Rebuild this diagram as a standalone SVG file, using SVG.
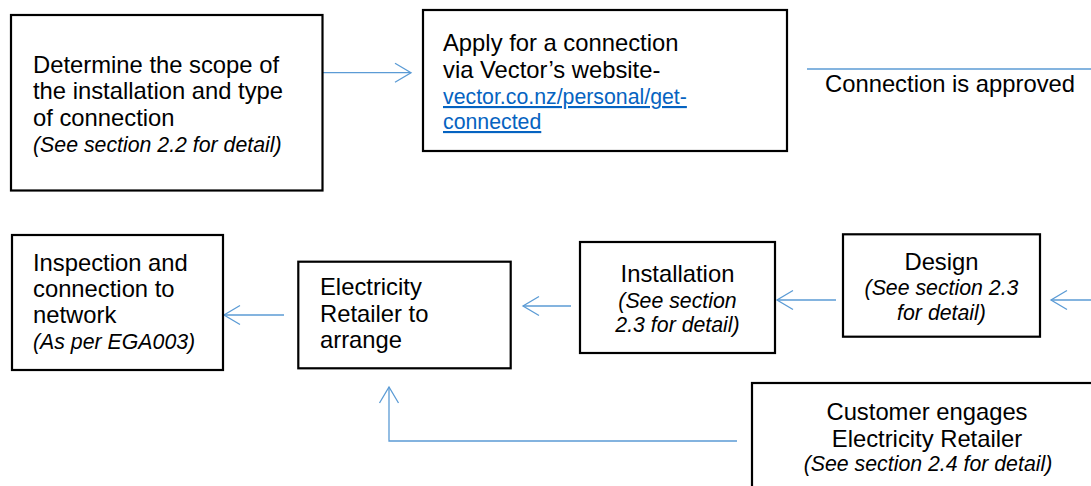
<svg xmlns="http://www.w3.org/2000/svg" width="1091" height="486" viewBox="0 0 1091 486">
<style>
.box{fill:#fff;stroke:#000;stroke-width:2.2}
.t{font-family:"Liberation Sans",Arial,sans-serif;font-size:23.8px;fill:#000}
.i{font-family:"Liberation Sans",Arial,sans-serif;font-size:21.3px;font-style:italic;fill:#000}
.lk{font-family:"Liberation Sans",Arial,sans-serif;font-size:21.3px;fill:#0563C1;text-decoration:underline}
.c{text-anchor:middle}
.cn{fill:none;stroke:#5B9BD5;stroke-width:1.3}
</style>
<defs>
<marker id="ah" markerUnits="userSpaceOnUse" markerWidth="20" markerHeight="24" viewBox="-18 -12 20 24" refX="0" refY="0" orient="auto">
<path d="M-16,-9.5 L0,0 L-16,9.5" fill="none" stroke="#5B9BD5" stroke-width="1.3"/>
</marker>
</defs>
<rect width="1091" height="486" fill="#fff"/>
<g id="connectors">
<path class="cn" d="M323,72.7 H411" marker-end="url(#ah)"/>
<path class="cn" d="M807,69 H1091"/>
<path class="cn" d="M1091,300 H1051" marker-end="url(#ah)"/>
<path class="cn" d="M836,300 H777" marker-end="url(#ah)"/>
<path class="cn" d="M571,306 H523" marker-end="url(#ah)"/>
<path class="cn" d="M284,315 H224" marker-end="url(#ah)"/>
<path class="cn" d="M1091,427 H1052" marker-end="url(#ah)"/>
<path class="cn" d="M737,441 H389 V387" marker-end="url(#ah)"/>
</g>
<g id="scope">
<rect class="box" x="11" y="15" width="311.5" height="175.5"/>
<text class="t" x="33" y="72.5">Determine the scope of</text>
<text class="t" x="33" y="99">the installation and type</text>
<text class="t" x="33" y="125.5">of connection</text>
<text class="i" x="33" y="151.5">(See section 2.2 for detail)</text>
</g>
<g id="apply">
<rect class="box" x="423" y="10" width="364" height="141"/>
<text class="t" x="443" y="51">Apply for a connection</text>
<text class="t" x="443" y="77.5">via Vector’s website-</text>
<text class="lk" x="443" y="104">vector.co.nz/personal/get-</text>
<text class="lk" x="443" y="129">connected</text>
</g>
<g id="approved">
<text class="t" x="825" y="92">Connection is approved</text>
</g>
<g id="inspection">
<rect class="box" x="12" y="235" width="211" height="135"/>
<text class="t" x="33" y="270.5">Inspection and</text>
<text class="t" x="33" y="297">connection to</text>
<text class="t" x="33" y="323">network</text>
<text class="i" x="33" y="348.5">(As per EGA003)</text>
</g>
<g id="retailer">
<rect class="box" x="298.3" y="261.7" width="212.4" height="106.6"/>
<text class="t" x="320" y="295">Electricity</text>
<text class="t" x="320" y="321.5">Retailer to</text>
<text class="t" x="320" y="348">arrange</text>
</g>
<g id="installation">
<rect class="box" x="580" y="242" width="195" height="111"/>
<text class="t c" x="677.5" y="282">Installation</text>
<text class="i c" x="677.5" y="307.5">(See section</text>
<text class="i c" x="677.5" y="332">2.3 for detail)</text>
</g>
<g id="design">
<rect class="box" x="843" y="234.3" width="197" height="102.4"/>
<text class="t c" x="941.5" y="270">Design</text>
<text class="i c" x="941.5" y="295">(See section 2.3</text>
<text class="i c" x="941.5" y="319.5">for detail)</text>
</g>
<g id="customer">
<rect class="box" x="752" y="383" width="360" height="120"/>
<text class="t c" x="927" y="420">Customer engages</text>
<text class="t c" x="927" y="447">Electricity Retailer</text>
<text class="i c" x="928" y="471">(See section 2.4 for detail)</text>
</g>
</svg>
